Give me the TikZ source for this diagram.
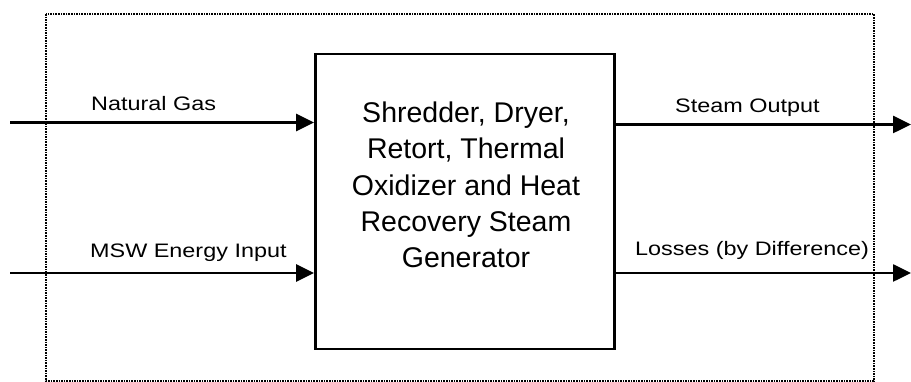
\documentclass[tikz,border=0pt]{standalone}
\usepackage{fontspec}
\setmainfont{Liberation Sans}
\newfontfamily\widesans[FakeStretch=1.2]{Liberation Sans}
\usetikzlibrary{arrows.meta}
\begin{document}
\begin{tikzpicture}[x=1pt,y=1pt,
  flow/.style={line width=2.6pt,-{Triangle[length=18pt,width=17pt]}},
  boundary/.style={line width=2pt,dash pattern=on 1.6pt off 1pt},
  mainbox/.style={draw,line width=2.8pt,minimum width=299pt,minimum height=295pt,inner sep=0pt},
  maintext/.style={align=center,font=\fontsize{28.5}{36.25}\selectfont,inner sep=0pt},
  lbl/.style={anchor=base west,inner sep=0pt,font=\widesans\fontsize{19.5}{22}\selectfont}]
\useasboundingbox (0,0) rectangle (911,382);
% boundary
\draw[boundary] (46,368) rectangle (874,1);
% process box
\node[mainbox] (box) at (465,180.5) {};
\node[maintext] (boxtext) at (466,197) {Shredder, Dryer,\\Retort, Thermal\\Oxidizer and Heat\\Recovery Steam\\Generator};
% free ends
\coordinate (ngin) at (10,259.5);
\coordinate (mswin) at (10,109);
\coordinate (steamout) at (911,257.5);
\coordinate (lossout) at (911,109);
% connectors
\draw[flow] (ngin) -- (ngin -| box.west);
\draw[flow] (mswin) -- (mswin -| box.west);
\draw[flow] (steamout -| box.east) -- (steamout);
\draw[flow] (lossout -| box.east) -- (lossout);
% labels
\node[lbl] (ng) at (91,271) {Natural Gas};
\node[lbl] (msw) at (90,124) {MSW Energy Input};
\node[lbl] (steam) at (675,269) {Steam Output};
\node[lbl] (loss) at (635,126) {Losses (by Difference)};
\end{tikzpicture}
\end{document}
